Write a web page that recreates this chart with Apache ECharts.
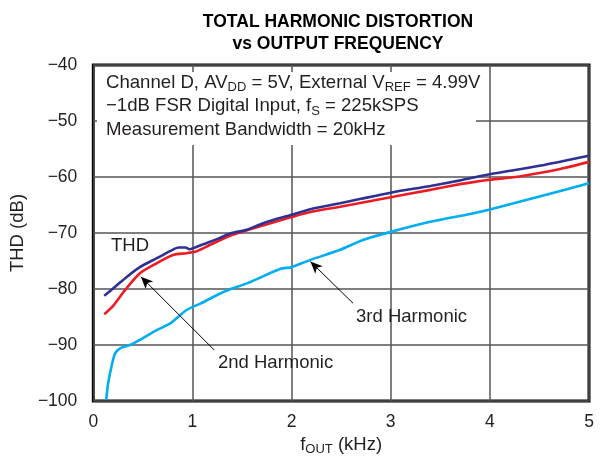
<!DOCTYPE html>
<html>
<head>
<meta charset="utf-8">
<script src="https://cdn.jsdelivr.net/npm/echarts@6/dist/echarts.min.js"></script>
<style>
html,body{margin:0;padding:0;background:#fff;}
#chart{width:603px;height:464px;}
</style>
</head>
<body>
<div id="chart"></div>
<script>
// ---- data ----
var xTicks = [0, 1, 2, 3, 4, 5];
var yTicks = [-100, -90, -80, -70, -60, -50, -40];

var thdFreq = [0.11, 0.22, 0.34, 0.47, 0.64, 0.78, 0.86, 0.93, 0.97, 1.01, 1.11, 1.26, 1.38, 1.55, 1.72, 1.99, 2.2, 2.49, 2.7, 3.0, 3.4, 3.7, 4.0, 4.5, 5.0];
var thdVal  = [-81.2, -79.6, -77.8, -76.1, -74.5, -73.2, -72.6, -72.6, -72.9, -72.7, -72.0, -71.0, -70.1, -69.4, -68.2, -66.8, -65.7, -64.7, -63.9, -62.8, -61.6, -60.6, -59.5, -58.0, -56.2];

var h2Freq = [0.11, 0.2, 0.32, 0.47, 0.64, 0.81, 0.94, 1.05, 1.18, 1.38, 1.72, 1.99, 2.2, 2.49, 3.0, 3.4, 3.6, 3.8, 4.0, 4.3, 4.5, 4.75, 5.0];
var h2Val  = [-84.5, -83.0, -80.2, -77.2, -75.4, -73.9, -73.6, -73.2, -72.1, -70.5, -68.6, -67.2, -66.2, -65.3, -63.6, -62.3, -61.6, -61.0, -60.5, -59.9, -59.3, -58.4, -57.3];

var h3Freq = [0.13, 0.15, 0.19, 0.22, 0.27, 0.37, 0.47, 0.61, 0.78, 0.94, 1.08, 1.28, 1.38, 1.55, 1.89, 2.0, 2.19, 2.49, 2.72, 3.0, 3.4, 3.8, 4.0, 4.5, 5.0];
var h3Val  = [-99.8, -96.8, -93.3, -91.5, -90.6, -90.0, -89.1, -87.6, -86.1, -83.75, -82.6, -80.8, -80.05, -79.0, -76.4, -76.1, -74.8, -73.0, -71.25, -69.8, -68.0, -66.6, -65.8, -63.5, -61.1];

// arrow annotations in data coordinates [from, to]
var arrow2nd = [[1.22, -90.9], [0.48, -77.8]];
var arrow3rd = [[2.62, -82.55], [2.19, -75.1]];

function zip(a, b) { return a.map(function (v, i) { return [v, b[i]]; }); }

var FONT = 'Liberation Sans, Arial, Helvetica, sans-serif';
var TXT = '#231f20';

var chart = echarts.init(document.getElementById('chart'), null, {renderer: 'canvas'});

function arrowLine(pts) {
  return {
    silent: true,
    symbol: ['none', 'arrow'],
    symbolSize: [8, 12],
    lineStyle: {color: '#000', width: 1, type: 'solid'},
    label: {show: false},
    emphasis: {disabled: true},
    animation: false,
    data: [[{coord: pts[0]}, {coord: pts[1]}]]
  };
}

var option = {
  animation: false,
  backgroundColor: '#fff',
  title: {
    text: 'TOTAL HARMONIC DISTORTION\nvs OUTPUT FREQUENCY',
    left: 333,
    top: 6,
    textAlign: 'center',
    textStyle: {fontFamily: FONT, fontSize: 17.5, fontWeight: 'bold', color: '#000', lineHeight: 22}
  },
  grid: {
    left: 93, right: 14, top: 65, bottom: 63,
    show: true, borderColor: '#000', borderWidth: 3, backgroundColor: 'transparent'
  },
  xAxis: {
    type: 'value', min: 0, max: 5, interval: 1,
    name: '{n|f}{s|OUT}{n| (kHz)}',
    nameLocation: 'middle', nameGap: 29,
    nameTextStyle: {
      fontFamily: FONT, color: TXT,
      rich: {
        n: {fontFamily: FONT, fontSize: 18.5, color: TXT, lineHeight: 22},
        s: {fontFamily: FONT, fontSize: 13, color: TXT, lineHeight: 12, verticalAlign: 'bottom'}
      }
    },
    axisLine: {show: false},
    axisTick: {show: false},
    axisLabel: {fontFamily: FONT, fontSize: 17.5, color: TXT, margin: 12,
      formatter: function (v) { return xTicks.indexOf(v) >= 0 ? String(v) : ''; }},
    splitLine: {show: true, lineStyle: {color: '#555', width: 1.5}}
  },
  yAxis: {
    type: 'value', min: -100, max: -40, interval: 10,
    name: 'THD (dB)',
    nameLocation: 'middle', nameGap: 56,
    nameTextStyle: {fontFamily: FONT, fontSize: 18.5, color: TXT},
    axisLine: {show: false},
    axisTick: {show: false},
    axisLabel: {fontFamily: FONT, fontSize: 17.5, color: TXT, margin: 16,
      formatter: function (v) { return yTicks.indexOf(v) >= 0 ? (v < 0 ? '\u2212' : '') + Math.abs(v) : ''; }},
    splitLine: {show: true, lineStyle: {color: '#555', width: 1.5}}
  },
  graphic: [
    {type: 'rect', z: 1, shape: {x: 97, y: 72, width: 379, height: 73}, style: {fill: '#fff'}},
    {type: 'text', z: 2, left: 106, top: 73,
      style: {
        text: '{n|Channel D, AV}{s|DD}{n| = 5V, External V}{s|REF}{n| = 4.99V}\n{n|\u22121dB FSR Digital Input, f}{s|S}{n| = 225kSPS}\n{n|Measurement Bandwidth = 20kHz}',
        fill: TXT,
        rich: {
          n: {fontFamily: FONT, fontSize: 18.6, fill: TXT, lineHeight: 23.5},
          s: {fontFamily: FONT, fontSize: 13, fill: TXT, lineHeight: 12, verticalAlign: 'bottom'}
        }
      }},
    {type: 'text', z: 2, left: 111, top: 236,
      style: {text: 'THD', font: '18.5px ' + FONT, fill: TXT}},
    {type: 'text', z: 2, left: 218, top: 353,
      style: {text: '2nd Harmonic', font: '18.5px ' + FONT, fill: TXT}},
    {type: 'text', z: 2, left: 356, top: 307,
      style: {text: '3rd Harmonic', font: '18.5px ' + FONT, fill: TXT}}
  ],
  series: [
    {
      name: '3rd Harmonic', type: 'line', data: zip(h3Freq, h3Val),
      showSymbol: false, smooth: 0.25, z: 3,
      lineStyle: {color: '#00aeef', width: 2.6},
      markLine: arrowLine(arrow3rd)
    },
    {
      name: '2nd Harmonic', type: 'line', data: zip(h2Freq, h2Val),
      showSymbol: false, smooth: 0.25, z: 4,
      lineStyle: {color: '#ed1c24', width: 2.6},
      markLine: arrowLine(arrow2nd)
    },
    {
      name: 'THD', type: 'line', data: zip(thdFreq, thdVal),
      showSymbol: false, smooth: 0.25, z: 5,
      lineStyle: {color: '#2e3192', width: 2.6}
    }
  ]
};
chart.setOption(option);
</script>
</body>
</html>
